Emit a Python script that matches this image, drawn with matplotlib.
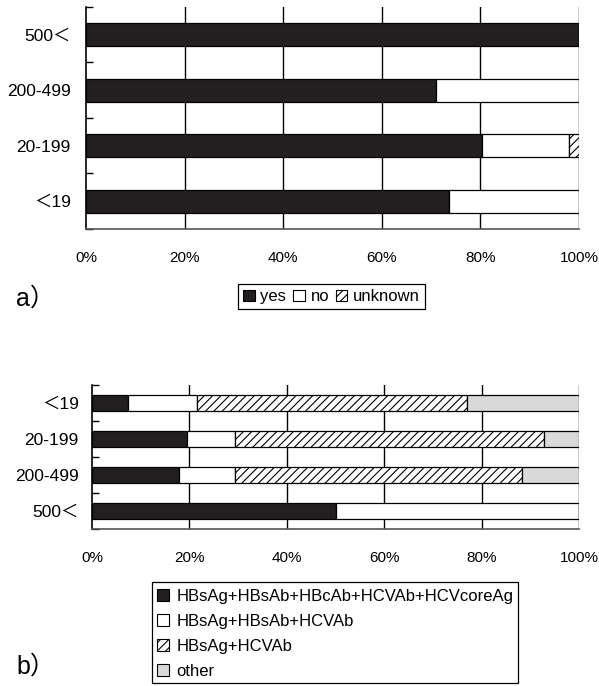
import matplotlib
matplotlib.use("Agg")
import matplotlib.pyplot as plt
from matplotlib.patches import Patch, Rectangle
import numpy as np

plt.rcParams['font.family'] = ['Liberation Sans', 'Noto Sans CJK JP', 'DejaVu Sans']
plt.rcParams['hatch.linewidth'] = 0.8

# ---- data: panel a (top to bottom) ----
cats_a = ["500＜", "200-499", "20-199", "＜19"]
yes_a = [100.0, 71.0, 80.4, 73.6]
no_a = [0.0, 29.0, 17.6, 26.4]
unknown_a = [0.0, 0.0, 2.0, 0.0]
legend_a = ["yes", "no", "unknown"]

# ---- data: panel b (top to bottom) ----
cats_b = ["＜19", "20-199", "200-499", "500＜"]
s1_b = [7.4, 19.6, 17.9, 50.0]
s2_b = [14.2, 9.8, 11.5, 50.0]
s3_b = [55.3, 63.5, 58.9, 0.0]
s4_b = [23.1, 7.1, 11.7, 0.0]
legend_b = ["HBsAg+HBsAb+HBcAb+HCVAb+HCVcoreAg", "HBsAg+HBsAb+HCVAb",
            "HBsAg+HCVAb", "other"]
xticks = [0, 20, 40, 60, 80, 100]
xlabels = ["0%", "20%", "40%", "60%", "80%", "100%"]

BLACK = "#231f20"
GRAY = "#d9d9d9"
styles = [dict(color=BLACK, hatch=None), dict(color="white", hatch=None),
          dict(color="white", hatch="////"), dict(color=GRAY, hatch=None)]

W, H = 599, 686
fig = plt.figure(figsize=(W / 100, H / 100), dpi=100)


def frac(x0, y0, x1, y1):
    return [x0 / W, 1 - y1 / H, (x1 - x0) / W, (y1 - y0) / H]


def style_axes(ax, cats, ypad):
    n = len(cats)
    ax.set_xlim(0, 100)
    ax.set_ylim(n - 0.5, -0.5)
    ax.set_xticks(xticks)
    ax.set_xticklabels(xlabels, fontsize=11)
    ax.tick_params(axis='x', length=0, pad=15.5)
    ax.set_yticks(range(n))
    ax.set_yticklabels(cats, fontsize=12.5)
    ax.set_yticks(np.arange(-0.5, n, 1.0), minor=True)
    ax.tick_params(axis='y', which='major', length=0, pad=ypad)
    ax.tick_params(axis='y', which='minor', length=5, direction='in',
                   width=1.0, color='black')
    for x in xticks[1:]:
        ax.axvline(x, color='black', lw=1.0, zorder=0)
    ax.spines['top'].set_visible(False)
    ax.spines['right'].set_visible(False)
    ax.spines['left'].set_linewidth(1.2)
    ax.spines['bottom'].set_linewidth(1.2)
    ax.spines['bottom'].set_color('#555555')


def draw(ax, cats, series, height):
    left = np.zeros(len(cats))
    for vals, st in zip(series, styles):
        vals = np.array(vals)
        ax.barh(range(len(cats)), vals, left=left, height=height,
                color=st['color'], hatch=st['hatch'], edgecolor='black',
                linewidth=0.9, zorder=2)
        left += vals


# panel a
ax1 = fig.add_axes(frac(86, 7, 579, 229))
draw(ax1, cats_a, [yes_a, no_a, unknown_a], 0.42)
style_axes(ax1, cats_a, 11)
handles_a = [Patch(facecolor=styles[i]['color'], hatch=styles[i]['hatch'],
                   edgecolor='black', linewidth=0.8) for i in range(3)]
leg = fig.legend(handles_a, legend_a, loc='center', ncol=3,
                 bbox_to_anchor=(331.5 / W, 1 - 297 / H), fontsize=12,
                 handlelength=0.7, handleheight=0.7, handletextpad=0.35,
                 columnspacing=0.4, borderpad=0.3, fancybox=False,
                 framealpha=1, edgecolor='black')
leg.get_frame().set_linewidth(0.9)
fig.text(16 / W, 1 - 299 / H, "a）", fontsize=18, va='center', ha='left')

# panel b
ax2 = fig.add_axes(frac(92, 385, 579, 529))
draw(ax2, cats_b, [s1_b, s2_b, s3_b, s4_b], 0.42)
style_axes(ax2, cats_b, 9.5)
handles_b = [Patch(facecolor=styles[i]['color'], hatch=styles[i]['hatch'],
                   edgecolor='black', linewidth=0.8) for i in range(4)]
leg2 = fig.legend(handles_b, legend_b, loc='upper left', ncol=1,
                  bbox_to_anchor=(157 / W, 1 - 589 / H), fontsize=12,
                  handlelength=0.7, handleheight=0.7, handletextpad=0.45,
                  labelspacing=0.6, borderpad=0.0, borderaxespad=0.0,
                  frameon=False)
fig.patches.append(Rectangle((152 / W, 1 - 682.5 / H), (518 - 152) / W,
                             (682.5 - 581.5) / H, transform=fig.transFigure,
                             facecolor='none', edgecolor='black', lw=0.9))
fig.text(16 / W, 1 - 667 / H, "b）", fontsize=18, va='center', ha='left')

fig.savefig("out.png", dpi=100)
